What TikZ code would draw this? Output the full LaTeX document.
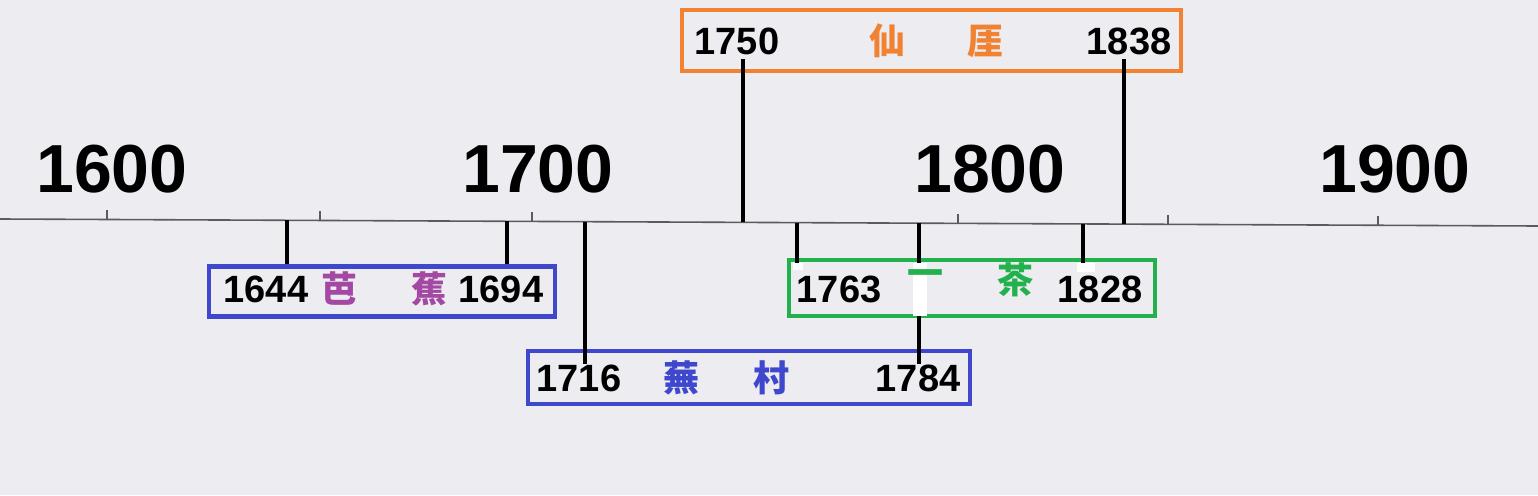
\documentclass[tikz,border=0pt]{standalone}
\usepackage{fontspec}
\setmainfont{Liberation Sans}
\newfontfamily\cjk{Noto Sans CJK JP}
\usetikzlibrary{calc}
\definecolor{paper}{RGB}{236,236,241}
\definecolor{axisgray}{RGB}{90,90,95}
\definecolor{sorange}{RGB}{240,130,50}
\definecolor{hblue}{RGB}{63,72,204}
\definecolor{hpurple}{RGB}{163,73,164}
\definecolor{hgreen}{RGB}{34,177,76}
\tikzset{%
century/.style={font=\fontsize{68}{68}\bfseries\selectfont,inner sep=0},
year/.style={font=\fontsize{38}{38}\bfseries\selectfont,inner sep=0},
poet/.style={font=\cjk\bfseries\fontsize{36}{36}\selectfont,inner sep=0},
lifebox/.style={draw,line width=4.5pt,inner sep=0},
axisline/.style={draw=axisgray,line width=1.6pt},
tickmark/.style={draw=axisgray,line width=1.4pt},
life/.style={draw=black,line width=4pt},
patch/.style={fill=white}
}
\begin{document}
\begin{tikzpicture}[x=1pt,y=-1pt]

    \fill[paper] (0,0) rectangle (1538,495);
    \useasboundingbox (0,0) rectangle (1538,495);

    % axis
    \coordinate (axl) at (0,219);
    \coordinate (axr) at (1538,226);
    \draw[axisline] (axl) -- (axr);
    \foreach \x in {107,320,532,958,1168,1378}
        \draw[tickmark] ($(axl)!\x/1538!(axr)$) -- ++(0,-9);

    \node[century] (c1600) at (112,169) {1600};
    \node[century] (c1700) at (538,169) {1700};
    \node[century] (c1800) at (990,169) {1800};
    \node[century] (c1900) at (1395,169) {1900};

    % points on the axis
    \foreach \n/\x in {1644/287,1694/507,1716/585,1750/743,1763/797,1784/919,1828/1083,1838/1124}
        \coordinate (t\n) at ($(axl)!\x/1538!(axr)$);

    % boxes
    \node[lifebox,draw=sorange,minimum width=499pt,minimum height=61pt] (senjo) at (931.5,40.5) {};
    \node[lifebox,draw=hblue,minimum width=346pt,minimum height=50pt] (basho) at (382,291.5) {};
    \node[lifebox,draw=hblue,minimum width=442pt,minimum height=53pt] (buson) at (749,377.5) {};
    \node[lifebox,draw=hgreen,minimum width=366pt,minimum height=56pt] (issa) at (972,288) {};

    % texts
    \node[year] (s1750) at (737,41) {1750};
    \node[poet,sorange] (sen) at (887,41) {仙};
    \node[poet,sorange] (jo) at (985,41) {厓};
    \node[year] (s1838) at (1129,41) {1838};

    \node[year] (b1644) at (266,289) {1644};
    \node[poet,hpurple] (ba) at (339,289) {芭};
    \node[poet,hpurple] (sho) at (429,289) {蕉};
    \node[year] (b1694) at (501,289) {1694};

    \node[year] (n1716) at (579,378) {1716};
    \node[poet,hblue] (bu) at (681,378) {蕪};
    \node[poet,hblue] (son) at (771,378) {村};
    \node[year] (n1784) at (918,378) {1784};

    \node[year] (i1763) at (839,289) {1763};
    \node[year] (i1828) at (1100,289) {1828};

    % life lines
    \path[life] (t1750) -- ($(t1750 |- s1750.south)+(0,4)$)
                (t1838) -- ($(t1838 |- s1838.south)+(0,4)$);

    \path[life] (t1644) -- (t1644 |- basho.north)
                (t1694) -- (t1694 |- basho.north);

    \path[life] (t1716) -- (t1716 |- n1716.north)
                (t1784) -- (t1784 |- n1784.north);

    \path[life] (t1763) -- ($(t1763 |- issa.north)+(0,5)$)
                (t1828) -- ($(t1828 |- issa.north)+(0,5)$);

    \foreach \a/\b in {{913,263}/{927,316},{1077,263}/{1095,272},{793,263}/{803,270}}
        \fill[patch] (\a) rectangle (\b);

    \node[poet,hgreen] (ichi) at (925,278) {一};
    \node[poet,hgreen] (cha) at (1015,280) {茶};

\end{tikzpicture}
\end{document}
